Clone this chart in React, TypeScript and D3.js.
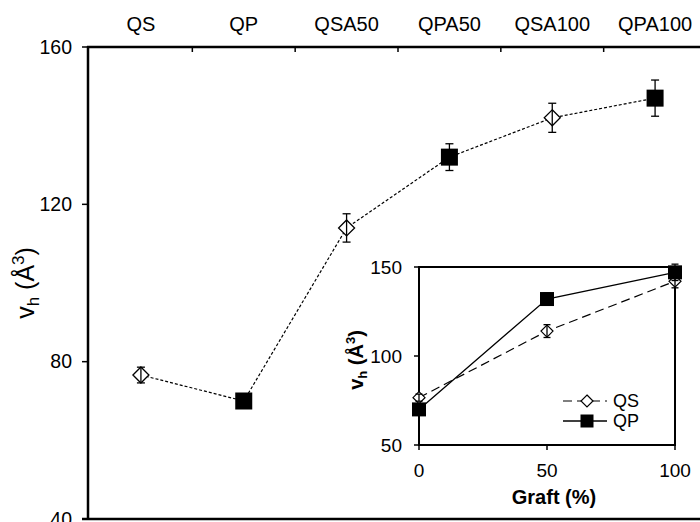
import React from "react";
import * as d3 from "d3";

const categories = ["QS", "QP", "QSA50", "QPA50", "QSA100", "QPA100"];
const mainValues = [76.6, 70.0, 114.0, 132.0, 142.0, 147.0];
const mainErrors = [2.0, 0.8, 3.6, 3.4, 3.7, 4.6];
const markerTypes = ["diamond", "square", "diamond", "square", "diamond", "square"];
const mainYTicks = [40, 80, 120, 160];

const graft = [0, 50, 100];
const qsValues = [76.6, 114.0, 142.0];
const qsErrors = [2.0, 3.6, 3.7];
const qpValues = [70.0, 132.0, 147.0];
const qpErrors = [0.8, 3.4, 4.6];
const insetYTicks = [50, 100, 150];
const insetXTicks = [0, 50, 100];

const FONT = "Arial, 'Liberation Sans', sans-serif";

function Diamond({ x, y, r, sw = 1.3 }: { x: number; y: number; r: number; sw?: number }) {
  return (
    <path
      d={`M${x},${y - r}L${x + r},${y}L${x},${y + r}L${x - r},${y}Z`}
      fill="white"
      stroke="black"
      strokeWidth={sw}
    />
  );
}
function Square({ x, y, s }: { x: number; y: number; s: number }) {
  return <rect x={x - s / 2} y={y - s / 2} width={s} height={s} fill="black" />;
}
function ErrBar({ x, y1, y2, cap }: { x: number; y1: number; y2: number; cap: number }) {
  return (
    <g stroke="black" strokeWidth={1.3}>
      <line x1={x} x2={x} y1={y1} y2={y2} />
      <line x1={x - cap} x2={x + cap} y1={y1} y2={y1} />
      <line x1={x - cap} x2={x + cap} y1={y2} y2={y2} />
    </g>
  );
}

export default function App() {
  const x = d3.scaleBand<string>().domain(categories).range([89.5, 706.5]).padding(0);
  const y = d3.scaleLinear().domain([40, 160]).range([519, 47]);
  const cx = (c: string) => (x(c) as number) + x.bandwidth() / 2;

  const line = d3
    .line<number>()
    .x((_, i) => cx(categories[i]))
    .y((v) => y(v));

  const ix = d3.scaleLinear().domain([0, 100]).range([419, 675]);
  const iy = d3.scaleLinear().domain([50, 150]).range([445, 267]);
  const iline = d3
    .line<number>()
    .x((_, i) => ix(graft[i]))
    .y((v) => iy(v));

  const boundaries = categories.slice(1).map((c) => x(c) as number);

  return (
    <svg
      width={700}
      height={522}
      style={{ position: "absolute", left: 0, top: 0, background: "white" }}
      fontFamily={FONT}
    >
      <rect x={0} y={0} width={700} height={522} fill="white" />
      {/* Main axes */}
      <line x1={88} x2={88} y1={46} y2={520} stroke="black" strokeWidth={2.5} />
      <line x1={87} x2={700} y1={47} y2={47} stroke="black" strokeWidth={2.5} />
      <line x1={82} x2={700} y1={519} y2={519} stroke="black" strokeWidth={2.5} />
      {mainYTicks.map((t) => (
        <g key={t}>
          <line x1={82} x2={88} y1={y(t)} y2={y(t)} stroke="black" strokeWidth={1.5} />
          <text x={72} y={y(t)} dy="0.35em" textAnchor="end" fontSize={19.5}>
            {t}
          </text>
        </g>
      ))}
      {boundaries.map((b, i) => (
        <line key={i} x1={b} x2={b} y1={47} y2={52} stroke="black" strokeWidth={1.5} />
      ))}
      {categories.map((c) => (
        <text key={c} x={cx(c)} y={31} textAnchor="middle" fontSize={20}>
          {c}
        </text>
      ))}
      {/* main y label */}
      <text transform={`translate(34,283) rotate(-90)`} textAnchor="middle" fontSize={25}>
        <tspan>v</tspan>
        <tspan fontSize={17} dy={5}>h</tspan>
        <tspan dy={-5}> (Å</tspan>
        <tspan fontSize={17} dy={-10}>3</tspan>
        <tspan dy={10}>)</tspan>
      </text>

      {/* main line */}
      <path d={line(mainValues) as string} fill="none" stroke="black" strokeWidth={1.2} strokeDasharray="3,2" />
      {mainValues.map((v, i) => {
        const px = cx(categories[i]);
        return (
          <g key={i}>
            {markerTypes[i] === "diamond" ? (
              <>
                <Diamond x={px} y={y(v)} r={8} />
                <ErrBar x={px} y1={y(v + mainErrors[i])} y2={y(v - mainErrors[i])} cap={4} />
              </>
            ) : (
              <>
                <ErrBar x={px} y1={y(v + mainErrors[i])} y2={y(v - mainErrors[i])} cap={4} />
                <Square x={px} y={y(v)} s={17} />
              </>
            )}
          </g>
        );
      })}

      {/* Inset */}
      <rect x={419} y={267} width={256} height={178} fill="white" stroke="black" strokeWidth={2} />
      {insetYTicks.map((t) => (
        <g key={t}>
          <line x1={414} x2={419} y1={iy(t)} y2={iy(t)} stroke="black" strokeWidth={1.5} />
          <text x={402} y={iy(t)} dy="0.35em" textAnchor="end" fontSize={19}>
            {t}
          </text>
        </g>
      ))}
      {insetXTicks.map((t) => (
        <g key={t}>
          <line x1={ix(t)} x2={ix(t)} y1={445} y2={450} stroke="black" strokeWidth={1.5} />
          <text x={ix(t)} y={477} textAnchor="middle" fontSize={19}>
            {t}
          </text>
        </g>
      ))}
      <text x={554} y={504} textAnchor="middle" fontSize={20} fontWeight="bold">
        Graft (%)
      </text>
      <text transform={`translate(363,360) rotate(-90)`} textAnchor="middle" fontSize={20} fontWeight="bold">
        <tspan>v</tspan>
        <tspan fontSize={13} dy={4}>h</tspan>
        <tspan dy={-4}> (Å</tspan>
        <tspan fontSize={13} dy={-8}>3</tspan>
        <tspan dy={8}>)</tspan>
      </text>

      <path d={iline(qsValues) as string} fill="none" stroke="black" strokeWidth={1.2} strokeDasharray="9,5" />
      <path d={iline(qpValues) as string} fill="none" stroke="black" strokeWidth={1.3} />
      {qsValues.map((v, i) => (
        <g key={"qs" + i}>
          <Diamond x={ix(graft[i])} y={iy(v)} r={6} sw={1.2} />
          <ErrBar x={ix(graft[i])} y1={iy(v + qsErrors[i])} y2={iy(v - qsErrors[i])} cap={3.5} />
        </g>
      ))}
      {qpValues.map((v, i) => (
        <g key={"qp" + i}>
          <ErrBar x={ix(graft[i])} y1={iy(v + qpErrors[i])} y2={iy(v - qpErrors[i])} cap={3.5} />
          <Square x={ix(graft[i])} y={iy(v)} s={14} />
        </g>
      ))}

      {/* legend */}
      <line x1={563} x2={607} y1={401} y2={401} stroke="black" strokeWidth={1.2} strokeDasharray="9,5" />
      <Diamond x={587} y={401} r={6} sw={1.2} />
      <text x={613} y={401} dy="0.35em" fontSize={18}>QS</text>
      <line x1={563} x2={607} y1={421} y2={421} stroke="black" strokeWidth={1.3} />
      <Square x={587} y={421} s={13} />
      <text x={613} y={421} dy="0.35em" fontSize={18}>QP</text>
    </svg>
  );
}
